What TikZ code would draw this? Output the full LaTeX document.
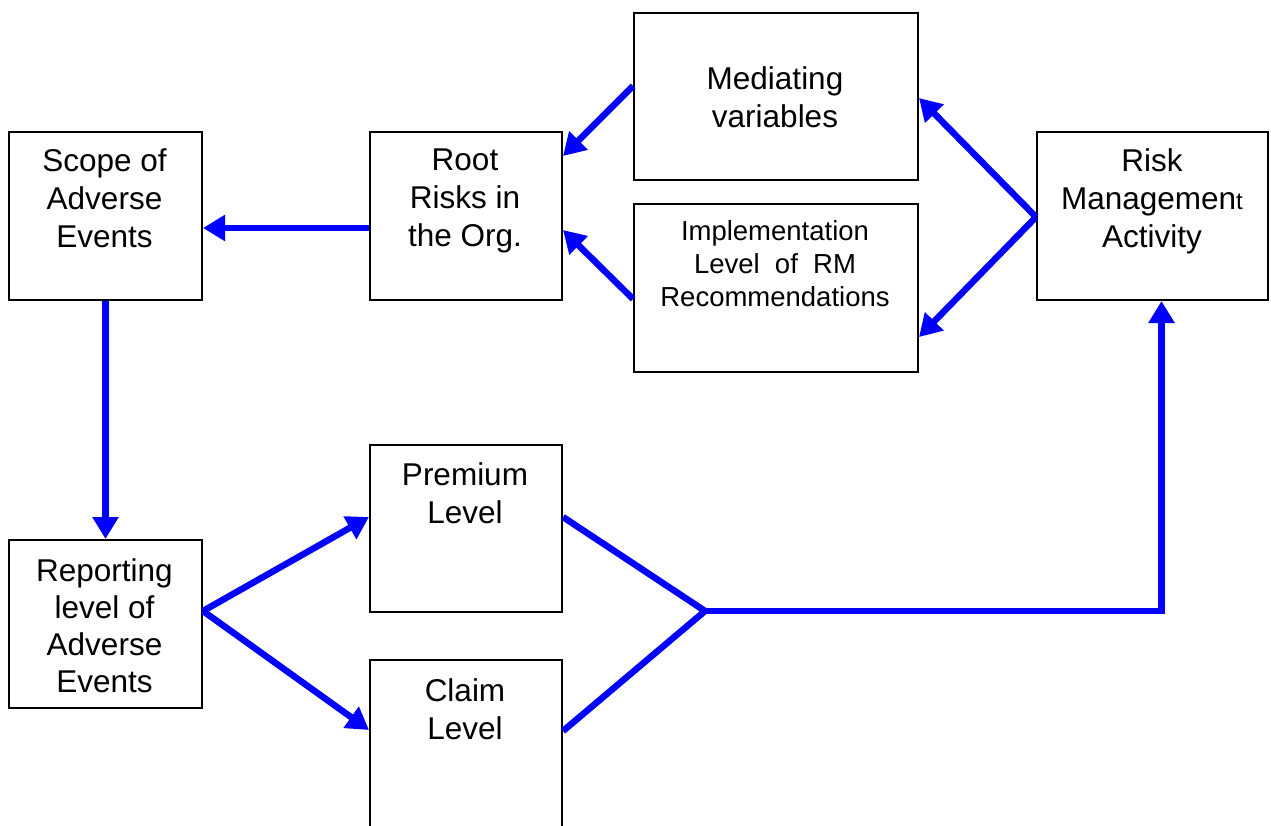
\documentclass[tikz,border=0pt]{standalone}
\usepackage{fontspec}
\setmainfont{Liberation Sans}
\usetikzlibrary{arrows.meta,calc}
\definecolor{flowblue}{RGB}{0,0,255}
\begin{document}
\begin{tikzpicture}[x=1pt,y=-1pt,
  box/.style={draw=black, line width=2pt, inner sep=0pt, anchor=north west},
  txt/.style={font=\fontsize{31.5}{38}\selectfont, align=center, inner sep=0pt, anchor=north},
  smalltxt/.style={font=\fontsize{27.5}{33}\selectfont, align=center, inner sep=0pt, anchor=north},
  flow/.style={draw=flowblue, line width=6.5pt, line join=miter},
  arr/.style={flow, -{Triangle[length=22pt,width=25pt]}}]
\useasboundingbox (0,0) rectangle (1271,825);
\clip (0,0) rectangle (1271,825);
% boxes
\node[box, minimum width=193pt, minimum height=168pt] (scope) at (8,131) {};
\node[box, minimum width=192pt, minimum height=168pt] (root) at (369,131) {};
\node[box, minimum width=284pt, minimum height=167pt] (med) at (633,12) {};
\node[box, minimum width=284pt, minimum height=168pt] (impl) at (633,203) {};
\node[box, minimum width=231pt, minimum height=168pt] (risk) at (1036,131) {};
\node[box, minimum width=193pt, minimum height=168pt] (rep) at (8,539) {};
\node[box, minimum width=192pt, minimum height=167pt] (prem) at (369,444) {};
\node[box, minimum width=192pt, minimum height=200pt] (claim) at (369,659) {};
% texts
\node[txt] (scopet) at (104.5,148.5) {Scope of\\Adverse\\Events};
\node[txt] (roott) at (465,148.5) {Root\\Risks in\\the Org.};
\node[txt] (medt) at (775,66.5) {Mediating\\variables};
\node[smalltxt] (implt) at (775,220.5) {Implementation\\Level\ \ of\ \ RM\\Recommendations};
\node[txt] (riskt) at (1152,148.5) {Risk\\Managemen{\fontsize{24}{38}\selectfont t}\\Activity};
\node[txt, font=\fontsize{31.5}{37}\selectfont] (rept) at (104.5,558.5) {Reporting\\level of\\Adverse\\Events};
\node[txt] (premt) at (465,462.5) {Premium\\Level};
\node[txt] (claimt) at (465,678.5) {Claim\\Level};
% connectors
\coordinate (j) at (705,611);
\draw[arr] ([yshift=-12pt]root.west) -- ([yshift=-12pt]scope.east);
\draw[arr] ([yshift=10.5pt]med.west) -- ([yshift=60pt]root.east);
\draw[arr] ([yshift=-11pt]impl.west) -- ([yshift=-14pt]root.east);
\draw[arr] ([yshift=-1pt]risk.west) -- ([yshift=-1.5pt]med.east);
\draw[arr] ([yshift=-1pt]risk.west) -- ([yshift=-49pt]impl.east);
\draw[arr] (scope.south) -- (rep.north);
\draw[arr] ([yshift=13pt]rep.east) -- ([yshift=11.5pt]prem.west);
\draw[arr] ([yshift=13pt]rep.east) -- ([yshift=-71pt]claim.north west);
\draw[flow] ([yshift=11.5pt]prem.east) -- (j) -- ([yshift=-72pt]claim.north east);
\draw[arr] (j) -| ([xshift=9pt]risk.south);
\end{tikzpicture}
\end{document}
